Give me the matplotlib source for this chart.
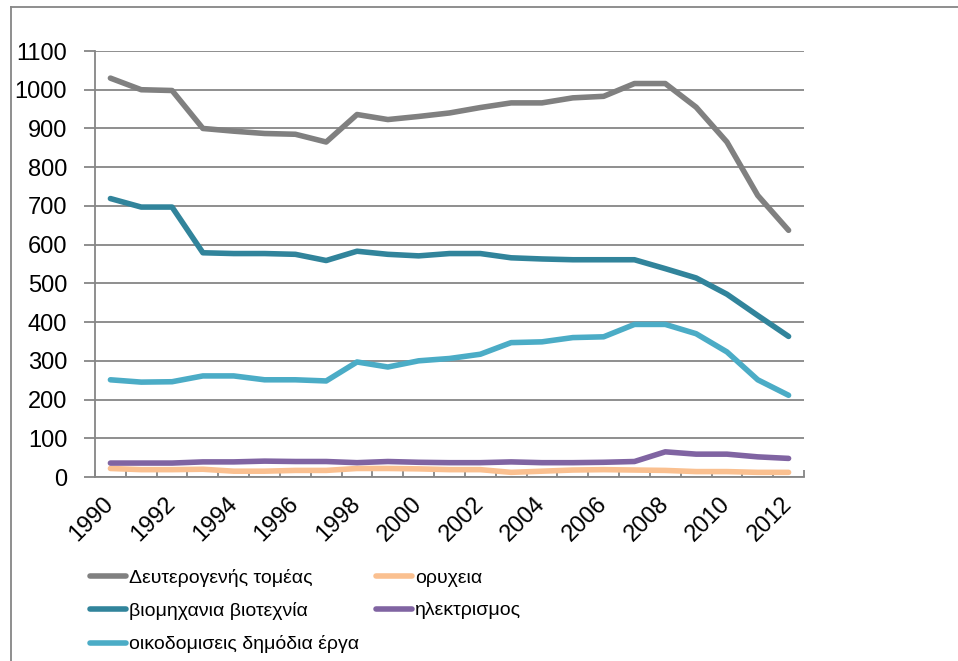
import matplotlib
matplotlib.use('Agg')
import matplotlib.pyplot as plt
from matplotlib.lines import Line2D

# データ
years = list(range(1990, 2013))
deuterogenis = [1030, 1000, 998, 900, 893, 887, 885, 865, 936, 923, 931, 940, 954,
                966, 966, 979, 983, 1016, 1016, 955, 865, 727, 637]
viomichania = [719, 697, 697, 579, 577, 577, 575, 559, 583, 575, 571, 577, 577,
               566, 563, 561, 561, 561, 538, 514, 472, 417, 363]
oikodomiseis = [251, 245, 246, 261, 261, 251, 251, 248, 297, 284, 300, 306, 317,
                347, 349, 360, 362, 394, 394, 370, 323, 251, 211]
oryxeia = [22, 19, 19, 20, 15, 15, 17, 17, 22, 22, 21, 19, 19,
           12, 15, 18, 19, 18, 17, 14, 14, 12, 12]
ilektrismos = [36, 36, 36, 39, 39, 41, 40, 40, 37, 40, 38, 37, 37,
               39, 37, 37, 38, 40, 65, 59, 59, 52, 48]

names = ['Δευτερογενής τομέας', 'βιομηχανια βιοτεχνία', 'οικοδομισεις δημόδια έργα',
         'ορυχεια', 'ηλεκτρισμος']
colors = ['#808080', '#31849B', '#4BACC6', '#FAC090', '#8064A2']
series = [deuterogenis, viomichania, oikodomiseis, oryxeia, ilektrismos]

plt.rcParams['font.family'] = ['Liberation Sans', 'DejaVu Sans']

grid_c = '#868686'

fig = plt.figure(figsize=(9.58, 6.61), dpi=100)
ax = fig.add_axes([95/958, 1 - 477/661, 709/958, 426/661])

x = list(range(len(years)))
for idx in range(len(series)):
    ax.plot(x, series[idx], color=colors[idx], lw=4, solid_capstyle='round',
            solid_joinstyle='round', zorder=3)

ax.set_xlim(-0.5, len(years) - 0.5)
ax.set_ylim(0, 1100)
ax.set_yticks(range(0, 1101, 100))
ax.tick_params(axis='y', length=8, width=1.3, color=grid_c, labelsize=17, pad=12)
ax.yaxis.grid(True, color=grid_c, lw=1.3, zorder=0)
ax.set_axisbelow(True)

ax.set_xticks([i for i in x if years[i] % 2 == 0])
ax.set_xticklabels([str(years[i]) for i in x if years[i] % 2 == 0],
                   rotation=45, ha='right', va='center', rotation_mode='anchor', fontsize=17)
ax.tick_params(axis='x', length=0, pad=17)
ax.set_xticks([i - 0.5 for i in range(len(years) + 1)], minor=True)
ax.tick_params(axis='x', which='minor', direction='in', length=5, width=1.3, color=grid_c)

for s in ['top', 'right']:
    ax.spines[s].set_visible(False)
for s in ['left', 'bottom']:
    ax.spines[s].set_color(grid_c)
    ax.spines[s].set_linewidth(1.3)

# 凡例 (2列)
handles = [Line2D([], [], color=c, lw=4, solid_capstyle='round') for c in colors]
leg_kw = dict(loc='upper left', frameon=False, handlelength=1.85, handletextpad=0.15,
              labelspacing=0.78, borderpad=0, borderaxespad=0,
              prop={'size': 14})
fig.legend(handles[:3], names[:3], bbox_to_anchor=(90/958, 1 - 569/661), **leg_kw)
fig.legend(handles[3:], names[3:], bbox_to_anchor=(376/958, 1 - 569/661), **leg_kw)

# 外枠
fig.add_artist(Line2D([11/958, 11/958], [0, 1 - 7/661], color=grid_c, lw=1.3,
                      transform=fig.transFigure))
fig.add_artist(Line2D([11/958, 1], [1 - 7/661, 1 - 7/661], color=grid_c, lw=1.3,
                      transform=fig.transFigure))

plt.savefig('out.png', dpi=100)
plt.close()
